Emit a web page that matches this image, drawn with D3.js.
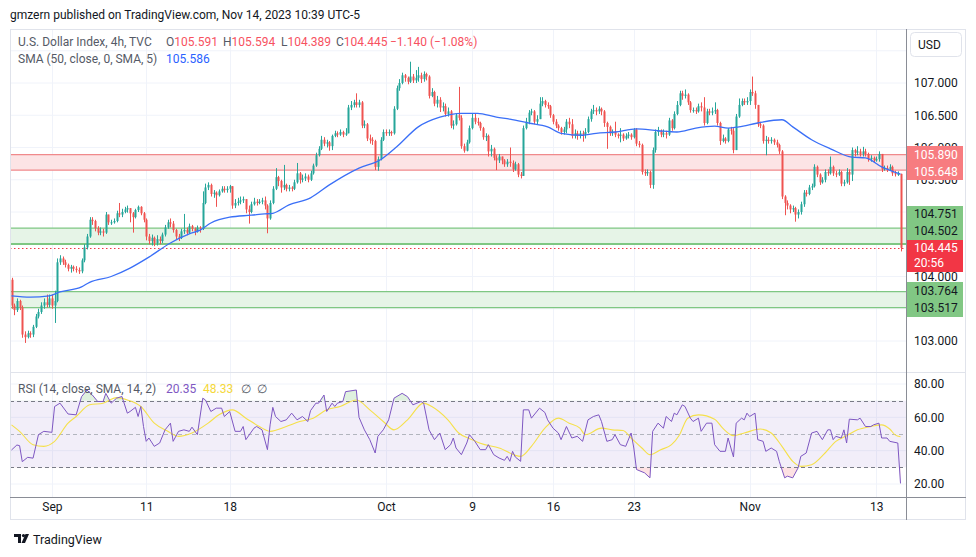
<!DOCTYPE html>
<html><head><meta charset="utf-8">
<script src="https://cdn.jsdelivr.net/npm/d3@7"></script>
<style>
body{margin:0;background:#fff;}
svg{display:block;font-family:Roboto,"Noto Sans",sans-serif;}
</style></head>
<body><svg id="c" width="976" height="557"></svg>
<script>
// ---------------- DATA ----------------
const firstOpen = 103.95;
const closes = [
103.55,103.48,103.62,103.52,103.10,103.06,103.12,103.10,103.22,103.38,
103.45,103.55,103.60,103.56,103.66,103.55,103.62,104.22,104.28,104.22,
104.18,104.12,104.15,104.12,104.10,104.08,104.25,104.45,104.62,104.88,
104.86,104.75,104.68,104.70,104.68,104.96,104.84,104.84,104.86,104.98,
104.96,105.00,105.04,105.06,104.98,104.92,105.03,105.08,104.98,104.88,
104.62,104.55,104.60,104.52,104.58,104.55,104.65,104.76,104.84,104.82,
104.72,104.62,104.60,104.70,104.72,104.68,104.78,104.74,104.70,104.76,
104.74,105.14,105.38,105.42,105.28,105.30,105.26,105.32,105.36,105.34,
105.36,105.40,105.10,105.14,105.16,105.18,105.20,105.04,105.00,105.12,
105.16,105.14,105.16,105.18,105.10,104.90,105.14,105.36,105.54,105.48,
105.38,105.42,105.36,105.38,105.36,105.46,105.60,105.50,105.52,105.55,
105.50,105.60,105.72,105.88,105.98,106.12,106.06,106.08,106.02,106.18,
106.22,106.20,106.24,106.20,106.22,106.62,106.66,106.70,106.66,106.70,
106.34,106.36,106.14,106.12,106.10,105.70,105.82,106.12,106.24,106.22,
106.24,106.22,106.60,106.92,107.00,107.12,107.08,107.02,107.10,107.04,
107.08,107.12,107.06,107.14,107.10,106.80,106.86,106.68,106.74,106.62,
106.64,106.52,106.56,106.34,106.36,106.50,106.46,106.02,105.95,106.08,
106.30,106.46,106.40,106.38,106.30,106.16,106.18,105.94,105.98,105.84,
105.80,105.86,105.80,105.74,105.78,105.76,105.66,105.74,105.58,105.56,
106.30,106.40,106.54,106.56,106.40,106.44,106.68,106.72,106.66,106.64,
106.50,106.40,106.34,106.30,106.24,106.28,106.40,106.36,106.18,106.22,
106.18,106.22,106.20,106.24,106.44,106.56,106.58,106.56,106.60,106.56,
106.38,106.32,106.22,106.24,106.20,106.18,106.20,106.14,106.18,106.20,
106.16,106.28,106.06,106.04,105.62,105.60,105.62,105.42,105.96,106.24,
106.26,106.20,106.22,106.20,106.42,106.30,106.52,106.66,106.84,106.80,
106.82,106.70,106.58,106.58,106.56,106.64,106.62,106.38,106.56,106.54,
106.56,106.58,106.38,106.10,106.14,106.10,106.28,106.26,105.96,106.48,
106.66,106.72,106.70,106.72,106.86,106.84,106.66,106.36,106.34,106.10,
106.12,106.10,106.12,106.08,106.04,105.94,105.24,105.14,105.10,105.04,
105.06,104.96,105.00,105.12,105.30,105.28,105.38,105.40,105.70,105.58,
105.46,105.50,105.62,105.60,105.70,105.60,105.58,105.62,105.44,105.46,
105.62,105.58,105.96,105.92,105.94,105.90,105.94,105.90,105.82,105.84,
105.80,105.82,105.90,105.66,105.68,105.66,105.70,105.60,105.59,105.591,
104.445];
const highs = [
103.98,103.58,103.66,103.64,103.55,103.15,103.16,103.15,103.25,103.42,
103.50,103.60,103.66,103.72,103.72,103.72,103.78,104.28,104.33,104.31,
104.26,104.20,104.18,104.17,104.16,104.14,104.28,104.50,104.66,104.92,
104.92,104.88,104.78,104.76,104.74,105.00,104.96,104.88,104.90,105.02,
105.14,105.05,105.08,105.10,105.06,105.00,105.05,105.10,105.09,105.00,
104.90,104.66,104.65,104.62,104.64,104.62,104.68,104.80,104.88,104.90,
104.86,104.74,104.66,104.74,104.97,104.76,104.82,104.80,104.76,104.79,
104.78,105.32,105.44,105.46,105.44,105.34,105.32,105.35,105.40,105.40,
105.40,105.42,105.40,105.20,105.22,105.24,105.24,105.20,105.10,105.16,
105.22,105.20,105.20,105.22,105.24,105.12,105.18,105.40,105.68,105.56,
105.50,105.73,105.44,105.42,105.40,105.50,105.76,105.62,105.58,105.60,
105.58,105.64,105.75,105.92,106.02,106.18,106.16,106.12,106.10,106.20,
106.26,106.25,106.28,106.26,106.30,106.66,106.72,106.74,106.84,106.74,
106.72,106.42,106.38,106.20,106.16,106.12,105.86,106.16,106.28,106.28,
106.28,106.26,106.64,106.96,107.06,107.16,107.14,107.10,107.33,107.14,
107.20,107.25,107.16,107.18,107.16,107.12,106.92,106.88,106.80,106.78,
106.70,106.68,106.62,106.58,106.42,106.52,106.94,106.50,106.06,106.12,
106.34,106.52,106.52,106.46,106.40,106.32,106.22,106.20,106.04,106.00,
105.88,105.90,105.86,105.82,105.82,106.00,105.80,105.78,105.76,105.62,
106.34,106.46,106.58,106.60,106.58,106.50,106.78,106.78,106.74,106.70,
106.66,106.52,106.44,106.36,106.32,106.32,106.44,106.46,106.44,106.28,
106.26,106.26,106.26,106.30,106.48,106.60,106.66,106.62,106.64,106.62,
106.58,106.40,106.34,106.28,106.40,106.22,106.30,106.22,106.22,106.24,
106.22,106.30,106.30,106.10,106.06,105.66,105.66,105.64,106.00,106.28,
106.32,106.28,106.28,106.26,106.46,106.44,106.56,106.72,106.88,106.88,
106.90,106.84,106.72,106.62,106.62,106.68,106.70,106.78,106.60,106.60,
106.62,106.70,106.60,106.40,106.20,106.16,106.30,106.32,106.30,106.52,
106.76,106.76,106.76,106.78,106.90,107.10,106.88,106.66,106.40,106.36,
106.18,106.16,106.16,106.14,106.12,106.06,105.96,105.26,105.18,105.12,
105.10,105.08,105.04,105.16,105.34,105.34,105.42,105.44,105.74,105.72,
105.60,105.54,105.66,105.66,105.86,105.72,105.64,105.66,105.64,105.50,
105.68,105.66,106.00,105.98,106.02,105.98,106.01,105.98,105.92,105.88,
105.86,105.86,105.94,105.90,105.72,105.72,105.74,105.72,105.64,105.63,
105.594];
const lows = [
103.50,103.40,103.45,103.48,103.05,102.97,103.04,103.05,103.06,103.20,
103.35,103.42,103.50,103.52,103.52,103.50,103.28,103.60,104.18,104.18,
104.14,104.08,104.06,104.08,104.06,104.04,104.05,104.22,104.42,104.60,
104.80,104.70,104.64,104.64,104.62,104.66,104.80,104.80,104.82,104.84,
104.92,104.92,104.98,104.99,104.84,104.68,104.90,105.00,104.95,104.84,
104.56,104.50,104.48,104.47,104.48,104.50,104.52,104.62,104.74,104.76,
104.68,104.58,104.55,104.58,104.66,104.64,104.66,104.70,104.64,104.68,
104.68,104.72,105.12,105.34,105.24,105.22,105.08,105.24,105.30,105.30,
105.30,105.30,105.05,105.06,105.10,105.12,105.14,104.98,104.82,104.98,
105.10,105.10,105.12,105.12,105.04,104.67,104.88,105.12,105.34,105.40,
105.30,105.34,105.32,105.32,105.32,105.34,105.44,105.44,105.46,105.48,
105.46,105.48,105.58,105.70,105.86,105.96,106.02,106.00,105.95,105.96,
106.16,106.16,106.18,106.16,106.18,106.22,106.58,106.62,106.62,106.62,
106.30,106.30,106.10,106.06,106.04,105.65,105.64,105.80,106.10,106.18,
106.18,106.18,106.20,106.58,106.88,106.98,107.02,106.98,107.00,107.00,
107.00,107.02,107.00,107.02,107.04,106.76,106.78,106.64,106.62,106.55,
106.56,106.48,106.48,106.30,106.28,106.34,106.42,105.98,105.92,105.94,
106.06,106.28,106.36,106.34,106.26,106.12,106.10,105.86,105.86,105.80,
105.65,105.76,105.74,105.70,105.70,105.70,105.62,105.64,105.54,105.52,
105.56,106.28,106.36,106.50,106.36,106.36,106.44,106.64,106.62,106.60,
106.46,106.36,106.30,106.26,106.20,106.20,106.22,106.30,106.14,106.14,
106.12,106.14,106.09,106.14,106.22,106.40,106.52,106.50,106.52,106.50,
106.32,105.98,106.18,106.18,106.16,106.14,106.08,106.10,106.12,106.14,
106.12,106.14,106.02,106.00,105.58,105.56,105.56,105.37,105.36,105.92,
106.18,106.16,106.16,106.14,106.18,106.26,106.28,106.50,106.64,106.74,
106.76,106.66,106.54,106.54,106.52,106.54,106.56,106.34,106.36,106.50,
106.50,106.52,106.34,106.04,106.08,106.06,106.08,106.20,105.91,105.96,
106.46,106.64,106.66,106.66,106.66,106.80,106.60,106.32,106.30,106.06,
105.88,106.06,106.06,106.04,106.00,105.90,105.20,104.95,105.04,104.98,
105.00,104.85,104.90,104.96,105.08,105.24,105.26,105.34,105.38,105.54,
105.42,105.44,105.46,105.56,105.58,105.56,105.54,105.56,105.40,105.40,
105.44,105.42,105.48,105.86,105.88,105.86,105.86,105.86,105.78,105.78,
105.76,105.78,105.78,105.62,105.64,105.62,105.64,105.56,105.55,105.56,
104.389];
// SMA(50) line, [bar, value]
const smaPoints = [[0,103.70],[7,103.68],[14,103.70],[18,103.76],[26,103.84],[29,103.91],[37,104.00],[44,104.13],[51,104.30],[59,104.52],[66,104.66],[70,104.72],[74,104.83],[81,104.92],[89,104.95],[94,104.97],[97,104.98],[103,105.11],[111,105.22],[118,105.42],[129,105.68],[137,105.81],[143,106.01],[151,106.32],[159,106.47],[167,106.53],[173,106.53],[180,106.47],[185,106.44],[192,106.38],[199,106.32],[204,106.22],[212,106.19],[217,106.22],[224,106.24],[232,106.29],[240,106.26],[247,106.24],[254,106.30],[261,106.33],[266,106.30],[270,106.32],[277,106.38],[286,106.43],[290,106.32],[297,106.12],[304,105.98],[312,105.85],[317,105.84],[323,105.70],[330,105.586]];
// RSI(14), [bar, value]
const rsiPoints = [[0,40.4],[2,43.4],[3,43],[4,33.4],[6,36],[8,35.5],[10,49.6],[12,51.6],[15,51],[16,66.5],[18,68.5],[21,62],[24,61.5],[26,72.4],[28,76.4],[30,73.4],[32,69.5],[34,69.5],[35,74.4],[37,68.5],[39,71.5],[41,72.5],[43,62.5],[44,63.5],[46,66],[47,60.5],[48,66.5],[49,54.5],[50,45.6],[51,47.6],[53,42.6],[55,44.6],[57,52.5],[59,56.5],[60,45.6],[62,51.6],[64,52.5],[66,51.6],[67,54.1],[69,49.6],[71,71.5],[72,70.4],[74,63.5],[76,65.5],[78,65.5],[79,60.5],[81,63.5],[83,51.6],[85,51.6],[86,54.5],[87,46.6],[90,53.5],[91,54.5],[93,52.5],[95,40.6],[96,55.5],[97,66],[98,60.5],[100,57.5],[102,58.5],[104,62.5],[106,58.5],[108,60.5],[110,57.5],[111,64],[113,68.5],[114,68.5],[116,73.4],[117,63.5],[119,68.5],[120,66.5],[121,68.5],[123,69.5],[124,75.4],[128,76.4],[129,60],[131,52.5],[133,46.6],[135,38.6],[136,48.6],[138,52.5],[140,58.5],[142,71.5],[145,74.4],[147,72.4],[149,67.5],[152,69.5],[153,68.5],[155,52.5],[157,46.6],[159,50.6],[161,40.6],[163,43.6],[164,47.6],[165,41.6],[167,37.6],[169,44.6],[170,49.6],[172,45.6],[174,40.6],[176,40.6],[177,43.6],[179,37.6],[181,35.6],[183,34.2],[184,36.6],[185,33.6],[186,39.6],[187,36.2],[189,33.6],[190,64.5],[192,64.5],[193,59.5],[196,65.5],[198,62.9],[199,58.5],[201,53.5],[203,50.6],[204,46.6],[206,54.5],[208,47.6],[210,48.6],[212,45.6],[214,58.5],[216,60.5],[218,61.5],[219,57.5],[221,45.6],[223,46.6],[224,49.6],[226,43.6],[228,42.6],[230,50.6],[231,41.6],[232,28.7],[235,26.7],[237,23.7],[238,51.6],[240,56.5],[242,53.5],[243,60.5],[245,57.5],[246,62.5],[247,61.5],[249,67.5],[250,66.5],[252,59.5],[253,57.5],[255,59.5],[256,51.6],[258,56.5],[260,56.5],[261,43.6],[263,39.6],[265,39.6],[266,47.6],[268,36.2],[269,56.5],[271,59.5],[272,58.5],[273,62.5],[274,60.5],[276,62.5],[277,46.6],[279,45.6],[280,39.6],[282,41.6],[284,39.6],[285,33.6],[287,23.7],[288,24.7],[290,23.7],[292,29.7],[293,36.6],[295,38.6],[297,50.6],[299,51.6],[301,46.6],[303,52.5],[304,52.5],[305,46.6],[306,48.6],[308,47.6],[309,52.5],[310,44.6],[311,58.9],[314,58.5],[315,59.5],[317,54.5],[319,54.5],[320,55.5],[322,56.5],[323,47.6],[325,47.6],[326,45.6],[329,44.6],[330,20.35]];
// RSI-based MA (SMA 14), [bar, value]
const rsiMaPoints = [[0,55.5],[3,51.6],[8,43.6],[12,42.6],[16,45.6],[21,56.5],[24,60.5],[29,67.5],[34,68.5],[39,71.8],[43,70.4],[48,66.5],[53,56.5],[58,51.6],[62,48.6],[67,50.6],[73,56.5],[77,61.5],[82,64.5],[87,59.5],[92,54.5],[96,51.6],[102,54.5],[107,57.5],[112,59.5],[117,64.5],[122,66.5],[128,70.4],[133,64.5],[138,57.5],[142,52.5],[147,58.5],[153,68.5],[156,66.5],[162,58.5],[166,50.6],[171,46.6],[174,44.4],[181,41.6],[189,36.6],[193,42.6],[198,53.5],[203,59.5],[207,56.5],[211,53.5],[213,49.6],[219,53.5],[223,52.5],[227,52.1],[230,47.6],[234,41.6],[237,37.6],[241,40.6],[245,43.6],[248,49.6],[251,59.5],[255,61.5],[261,58.9],[264,53.5],[268,49],[272,50.6],[278,53],[282,50.6],[286,42.6],[290,33.6],[293,30.6],[297,31.6],[302,38.6],[306,45.6],[310,49],[314,52.5],[319,54.5],[323,55.5],[326,53],[328,49.5],[330,48.33]];
const priceGrid = [107.5,107,106.5,106,105.5,105,104.5,104,103.5,103];
const priceTickLabels = [107,106.5,106,105.5,104,103];
const rsiTicks = [80,60,40,20];
const rsiLevels = [70,50,30];
const timeTickBars = [15,50,81,139,171,201,231,274,321];
const timeTickLabels = ["Sep","11","18","Oct","9","16","23","Nov","13"];
const zoneTops = [105.890,104.751,103.764];
const zoneBottoms = [105.648,104.502,103.517];
const zoneKinds = ["res","sup","sup"];
const lastClose = 104.445;
const lastChange = "−1.140 (−1.08%)";
const smaLast = 105.586;
const rsiLast = 20.35, rsiMaLast = 48.33;
const countdown = "20:56";

// ---------------- LAYOUT ----------------
const svg = d3.select("#c");
const L = 10, R = 906, AX = 966, T = 29, MB = 372, RT = 373, RB = 497, FB = 520;
const nBars = closes.length;
const x = d3.scaleLinear().domain([0, nBars - 1]).range([11.5, 900.5]);
const y = d3.scaleLinear().domain([103, 107]).range([341, 83]);
const yr = d3.scaleLinear().domain([20, 80]).range([484, 384]);
const UP = "#26a69a", DN = "#ef5350";
const GRID = "#f0f3fa", BORDER = "#e0e3eb", SCALE = "#8a8d96";

svg.append("rect").attr("width",976).attr("height",557).attr("fill","#fff");
svg.append("text").attr("x",10).attr("y",19).attr("font-size",12).attr("fill","#131722")
  .text("gmzern published on TradingView.com, Nov 14, 2023 10:39 UTC-5");

const defs = svg.append("defs");
defs.append("clipPath").attr("id","mainClip").append("rect").attr("x",L).attr("y",T).attr("width",R-L).attr("height",MB-T);
defs.append("clipPath").attr("id","rsiClip").append("rect").attr("x",L).attr("y",RT).attr("width",R-L).attr("height",RB-RT);
defs.append("clipPath").attr("id","obClip").append("rect").attr("x",L).attr("y",RT).attr("width",R-L).attr("height",yr(70)-RT);
defs.append("clipPath").attr("id","osClip").append("rect").attr("x",L).attr("y",yr(30)).attr("width",R-L).attr("height",RB-yr(30));

// grid
const g = svg.append("g");
g.selectAll(".hg").data(priceGrid).join("line")
  .attr("x1",L).attr("x2",R).attr("y1",d=>y(d)).attr("y2",d=>y(d)).attr("stroke",GRID);
g.selectAll(".rg").data(rsiTicks).join("line")
  .attr("x1",L).attr("x2",R).attr("y1",d=>yr(d)).attr("y2",d=>yr(d)).attr("stroke",GRID);
g.selectAll(".vg").data(timeTickBars).join("line")
  .attr("x1",d=>Math.round(x(d))+0.5).attr("x2",d=>Math.round(x(d))+0.5).attr("y1",T).attr("y2",RB).attr("stroke",GRID);

// main pane
const main = svg.append("g").attr("clip-path","url(#mainClip)");
const zoneIdx = d3.range(zoneTops.length);
main.selectAll(".zone").data(zoneIdx).join("rect")
  .attr("x",L).attr("width",R-L)
  .attr("y",i=>y(zoneTops[i])).attr("height",i=>y(zoneBottoms[i])-y(zoneTops[i]))
  .attr("fill",i=>zoneKinds[i]==="res"?"#fce4e5":"#e6f4e7");
zoneIdx.forEach(i=>{
  const c = zoneKinds[i]==="res"?"#f0898b":"#7fc783";
  [zoneTops[i],zoneBottoms[i]].forEach((v,k)=>{
    main.append("line").attr("x1",L).attr("x2",R).attr("y1",y(v)).attr("y2",y(v))
      .attr("stroke",c).attr("stroke-width",(i===1&&k===1)?2:1.2);
  });
});
main.append("line").attr("x1",L).attr("x2",R).attr("y1",Math.round(y(lastClose))+0.5).attr("y2",Math.round(y(lastClose))+0.5)
  .attr("stroke","#f23645").attr("stroke-dasharray","1.5,2.5");

const bars = closes.map((c,i)=>({i, o: i===0?firstOpen:closes[i-1], c, h: highs[i], l: lows[i]}));
const cg = main.append("g");
cg.selectAll(".wick").data(bars).join("line")
  .attr("x1",d=>Math.round(x(d.i))+0.5).attr("x2",d=>Math.round(x(d.i))+0.5)
  .attr("y1",d=>y(Math.max(d.h,d.o,d.c))).attr("y2",d=>y(Math.min(d.l,d.o,d.c)))
  .attr("stroke",d=>d.c>=d.o?UP:DN).attr("stroke-width",1);
cg.selectAll(".body").data(bars).join("rect")
  .attr("x",d=>Math.round(x(d.i))-0.5).attr("width",2)
  .attr("y",d=>y(Math.max(d.o,d.c)))
  .attr("height",d=>Math.max(1,Math.abs(y(d.o)-y(d.c))))
  .attr("fill",d=>d.c>=d.o?UP:DN);

main.append("path").datum(smaPoints)
  .attr("d",d3.line().x(d=>x(d[0])).y(d=>y(d[1])).curve(d3.curveMonotoneX))
  .attr("fill","none").attr("stroke","#3a6ff7").attr("stroke-width",1.3);

// RSI pane
const rg = svg.append("g").attr("clip-path","url(#rsiClip)");
rg.append("rect").attr("x",L).attr("width",R-L).attr("y",yr(70)).attr("height",yr(30)-yr(70)).attr("fill","rgba(126,87,194,0.1)");
rg.append("path").datum(rsiPoints).attr("clip-path","url(#obClip)")
  .attr("d",d3.area().x(d=>x(d[0])).y0(yr(70)).y1(d=>yr(d[1])))
  .attr("fill","rgba(76,175,80,0.18)");
rg.append("path").datum(rsiPoints).attr("clip-path","url(#osClip)")
  .attr("d",d3.area().x(d=>x(d[0])).y0(yr(30)).y1(d=>yr(d[1])))
  .attr("fill","rgba(242,54,69,0.15)");
rg.selectAll(".lvl").data(rsiLevels).join("line")
  .attr("x1",L).attr("x2",R).attr("y1",d=>Math.round(yr(d))+0.5).attr("y2",d=>Math.round(yr(d))+0.5)
  .attr("stroke",d=>d===50?"#b2b5be":"#787b86").attr("stroke-dasharray","4,3");
rg.append("path").datum(rsiMaPoints)
  .attr("d",d3.line().x(d=>x(d[0])).y(d=>yr(d[1])).curve(d3.curveMonotoneX))
  .attr("fill","none").attr("stroke","#f5e04a").attr("stroke-width",1.1);
rg.append("path").datum(rsiPoints)
  .attr("d",d3.line().x(d=>x(d[0])).y(d=>yr(d[1])))
  .attr("fill","none").attr("stroke","#7e57c2").attr("stroke-width",1);

// frame & separators
svg.append("rect").attr("x",L+0.5).attr("y",T+0.5).attr("width",AX-L-1).attr("height",FB-T-1)
  .attr("fill","none").attr("stroke",BORDER);
svg.append("line").attr("x1",L).attr("x2",AX).attr("y1",MB+0.5).attr("y2",MB+0.5).attr("stroke",BORDER);
svg.append("line").attr("x1",L).attr("x2",AX).attr("y1",RB+0.5).attr("y2",RB+0.5).attr("stroke",SCALE);
svg.append("line").attr("x1",R+0.5).attr("x2",R+0.5).attr("y1",T).attr("y2",FB).attr("stroke",SCALE);

// price axis (labels under badges are clipped away like in the original)
defs.append("clipPath").attr("id","axClip").selectAll("rect")
  .data([[T,146],[180,206],[272,282],[317,MB]]).join("rect")
  .attr("x",R+1).attr("width",AX-R).attr("y",d=>d[0]).attr("height",d=>d[1]-d[0]);
const pAxis = svg.append("g").attr("clip-path","url(#axClip)").append("g").attr("transform",`translate(${R+8},0)`)
  .call(d3.axisRight(y).tickValues(priceTickLabels).tickFormat(d3.format(".3f")).tickSize(0));
pAxis.select(".domain").remove();
pAxis.selectAll("text").attr("font-size",12).attr("fill","#131722").attr("font-family","Roboto,sans-serif").attr("x",0);

const rAxis = svg.append("g").attr("transform",`translate(${R+8},0)`)
  .call(d3.axisRight(yr).tickValues(rsiTicks).tickFormat(d3.format(".2f")).tickSize(0));
rAxis.select(".domain").remove();
rAxis.selectAll("text").attr("font-size",12).attr("fill","#131722").attr("font-family","Roboto,sans-serif").attr("x",0);

// time axis
const tAxis = svg.append("g").attr("transform",`translate(0,${RB})`)
  .call(d3.axisBottom(x).tickValues(timeTickBars).tickFormat((d,i)=>timeTickLabels[i]).tickSize(0));
tAxis.select(".domain").remove();
tAxis.selectAll("text").attr("font-size",12).attr("fill","#131722").attr("font-family","Roboto,sans-serif").attr("dy","0.9em").attr("y",3);

// USD button
svg.append("rect").attr("x",910.5).attr("y",32.5).attr("width",51).attr("height",24).attr("rx",4)
  .attr("fill","#fff").attr("stroke",BORDER);
svg.append("text").attr("x",918).attr("y",49).attr("font-size",12).attr("fill","#131722").text("USD");

// axis badges
function badge(y0,y1,fill,color,labels){
  svg.append("rect").attr("x",R+1).attr("y",y0).attr("width",56).attr("height",y1-y0).attr("fill",fill);
  labels.forEach(([t,yy])=>svg.append("text").attr("x",914).attr("y",yy).attr("dy","0.35em")
    .attr("font-size",12).attr("fill",color).text(t));
}
const f3 = d3.format(".3f");
badge(146,180,"#f77c80","#fff",[[f3(zoneTops[0]),155],[f3(zoneBottoms[0]),172]]);
badge(206,240,"#81c784","#131722",[[f3(zoneTops[1]),214],[f3(zoneBottoms[1]),231]]);
badge(240,272,"#f23645","#fff",[[f3(lastClose),248],[countdown,263]]);
badge(282,317,"#81c784","#131722",[[f3(zoneTops[2]),291],[f3(zoneBottoms[2]),308]]);

// legends
const LEG = "#555a66", RED = "#f7525f";
function txt(xx,yy,t,fill){ return svg.append("text").attr("x",xx).attr("y",yy).attr("font-size",12).attr("fill",fill).text(t); }
txt(18,46,"U.S. Dollar Index, 4h, TVC",LEG);
const ohlc = [["O",bars[nBars-1].o,166],["H",highs[nBars-1],223],["L",lows[nBars-1],281],["C",closes[nBars-1],336]];
ohlc.forEach(([k,v,xx])=>{
  const t = txt(xx,46,k,LEG);
  t.append("tspan").attr("fill",RED).text(f3(v));
});
txt(390,46,lastChange,RED);
txt(18,63,"SMA (50, close, 0, SMA, 5)",LEG);
txt(166,63,f3(smaLast),"#2962ff");
txt(18,393,"RSI (14, close, SMA, 14, 2)",LEG);
txt(166,393,d3.format(".2f")(rsiLast),"#7e57c2");
txt(203,393,d3.format(".2f")(rsiMaLast),"#f5d83a");
txt(241,393,"∅",LEG);
txt(257,393,"∅",LEG);

// footer logo
const logo = svg.append("g").attr("transform","translate(14,534)");
logo.append("path").attr("d","M0 0 H7 V9 H4 V3 H0 Z").attr("fill","#131722");
logo.append("circle").attr("cx",9.5).attr("cy",1.6).attr("r",1.6).attr("fill","#131722");
logo.append("path").attr("d","M11.5 0 H15 L11 9 H7.5 Z").attr("fill","#131722");
svg.append("text").attr("x",33).attr("y",544).attr("font-size",12.5).attr("fill","#131722").text("TradingView");
</script>
</body></html>
